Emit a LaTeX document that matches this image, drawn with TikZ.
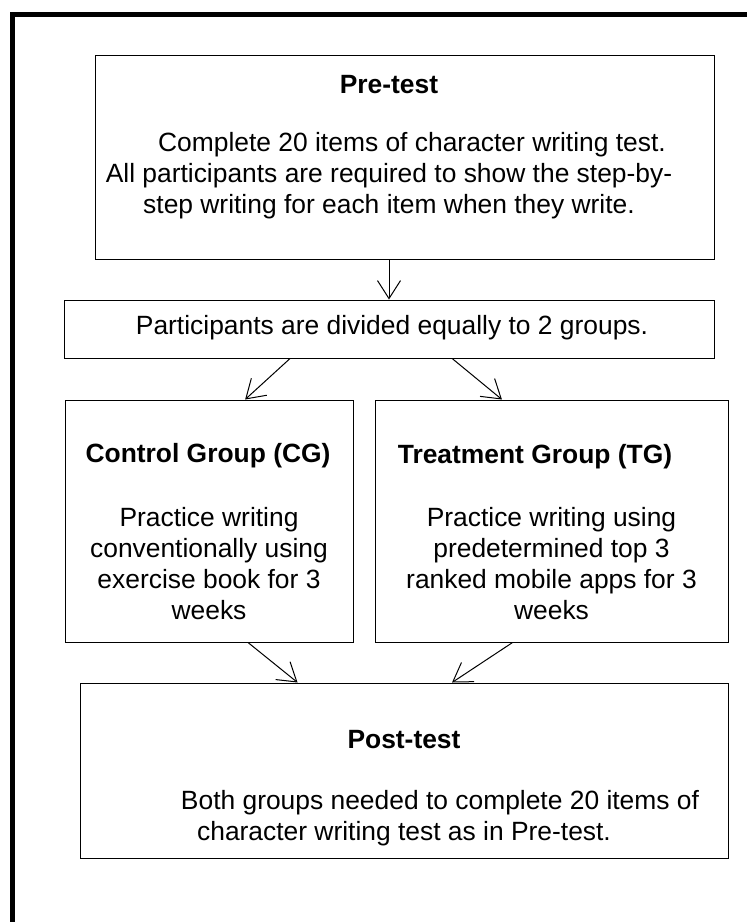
\documentclass[tikz,border=0pt]{standalone}
\usepackage{fontspec}
\setmainfont{Liberation Sans}
\usetikzlibrary{arrows.meta,calc}

\tikzset{
  box/.style={draw,line width=1pt,inner sep=0pt},
  head/.style={inner sep=0pt,font=\fontsize{26.4}{31}\selectfont\bfseries},
  body/.style={inner sep=0pt,align=center,font=\fontsize{26.4}{31}\selectfont},
  flow/.style={line width=1pt,-{Straight Barb[length=18pt,width=23pt,line width=1pt]}}
}

\begin{document}
\begin{tikzpicture}[x=1pt,y=-1pt]
\useasboundingbox (0,0) rectangle (747,922);

%Straight Lines [frame]
\draw [line width=5pt,line join=miter] (12.5,922) |- (747,14.5) ;

%Shape: Rectangle [pre]
\node [box,minimum width=619,minimum height=204] (pre) at (404.5,157) {};
%Shape: Rectangle [split]
\node [box,minimum width=650,minimum height=58] (split) at (389,329) {};
%Shape: Rectangle [cg]
\node [box,minimum width=288,minimum height=242] (cg) at (209,521) {};
%Shape: Rectangle [tg]
\node [box,minimum width=353,minimum height=242] (tg) at (551.5,521) {};
%Shape: Rectangle [post]
\node [box,minimum width=648,minimum height=175] (post) at (404,770.5) {};

% Text Node
\node [head] (pretitle) at (389,85) {Pre-test};
% Text Node
\node [body] (pretext) at (389,176) {\hspace*{46pt}Complete 20 items of character writing test.\\All participants are required to show the step-by-\\step writing for each item when they write.};
% Text Node
\node [body] (splittext) at (392,328) {Participants are divided equally to 2 groups.};
% Text Node
\node [head] (cgtitle) at (208,456) {Control Group (CG)};
% Text Node
\node [body] (cgtext) at (209,564) {Practice writing\\conventionally using\\exercise book for 3\\weeks};
% Text Node
\node [head] (tgtitle) at (535,457) {Treatment Group (TG)};
% Text Node
\node [body] (tgtext) at (551.5,564) {Practice writing using\\predetermined top 3\\ranked mobile apps for 3\\weeks};
% Text Node
\node [head] (posttitle) at (404,740) {Post-test};
% Text Node
\node [body] (posttext) at (404,818.5) {\hspace*{72pt}Both groups needed to complete 20 items of\\character writing test as in Pre-test.};

%Straight Lines
\draw [flow] (pre.south -| split.north) -- (split.north) ;
%Straight Lines
\draw [flow] ($(split.south west)!0.348!(split.south east)$) -- ($(cg.north west)!0.625!(cg.north east)$) ;
%Straight Lines
\draw [flow] ($(split.south west)!0.597!(split.south east)$) -- ($(tg.north west)!0.36!(tg.north east)$) ;
%Straight Lines
\draw [flow] ($(cg.south west)!0.635!(cg.south east)$) -- ($(post.north west)!0.336!(post.north east)$) ;
%Straight Lines
\draw [flow] ($(tg.south west)!0.39!(tg.south east)$) -- ($(post.north west)!0.574!(post.north east)$) ;

\end{tikzpicture}
\end{document}
